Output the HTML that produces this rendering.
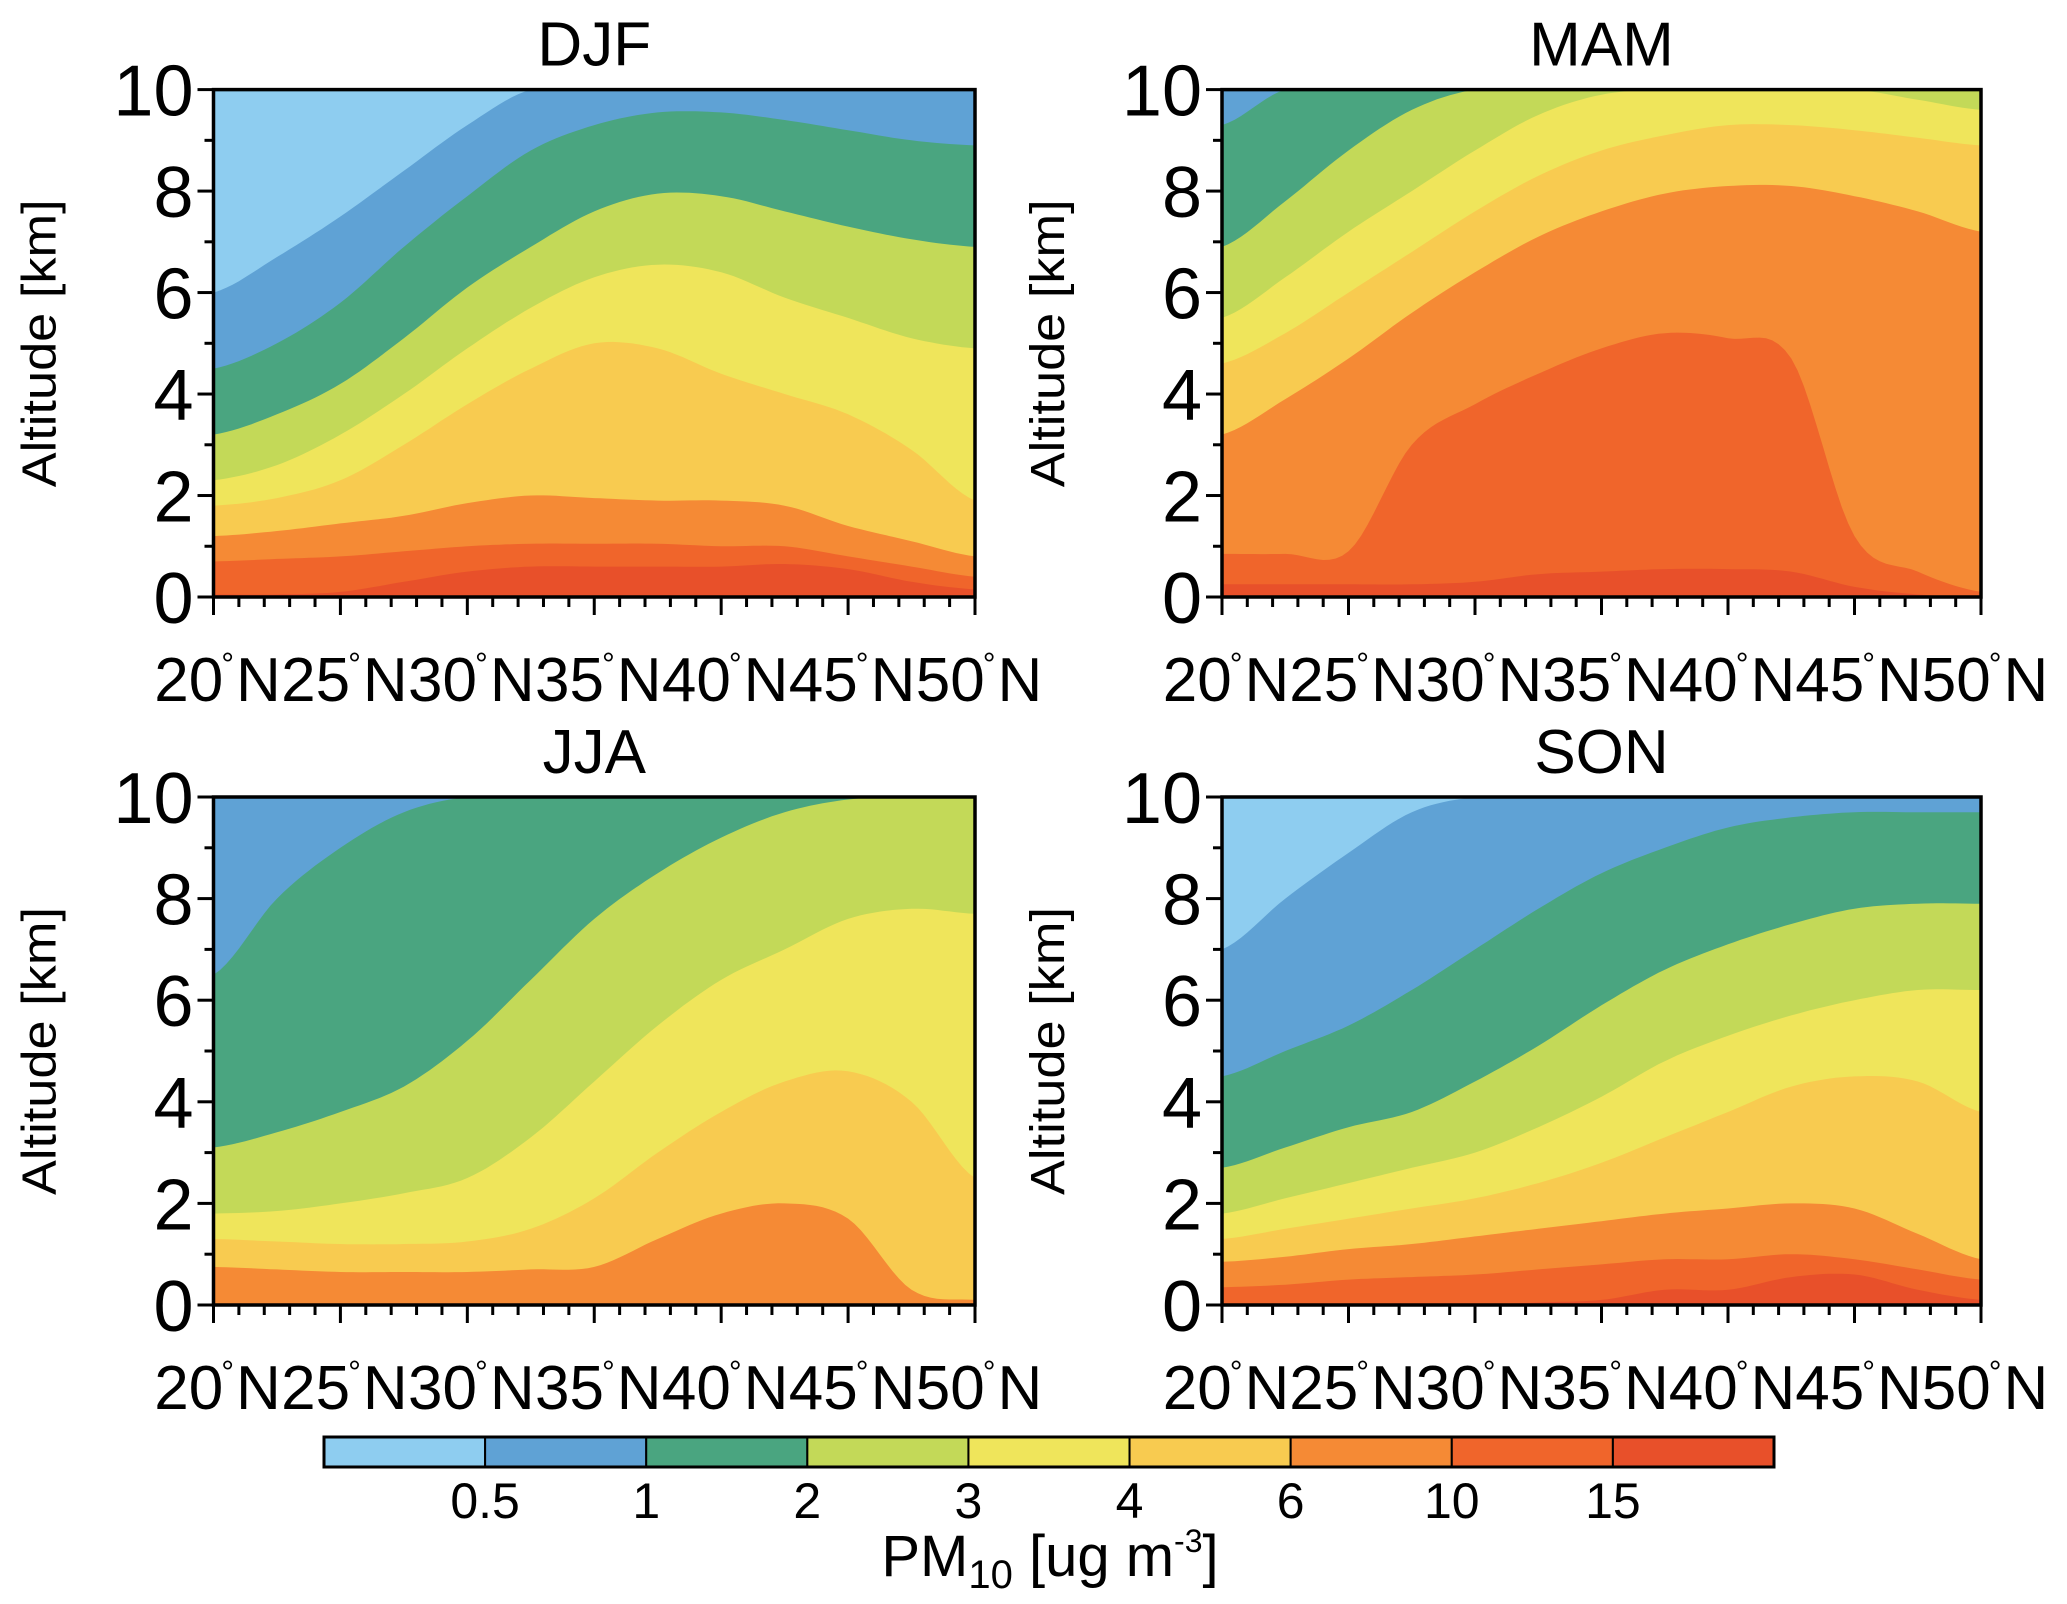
<!DOCTYPE html>
<html><head><meta charset="utf-8"><style>
html,body{margin:0;padding:0;background:#fff}
svg{display:block}
text{font-family:"Liberation Sans",Arial,sans-serif;fill:#000}
</style></head><body>
<svg id="fig" width="2067" height="1604" viewBox="0 0 2067 1604" xmlns="http://www.w3.org/2000/svg"></svg>
<script>
const levels = ["0.5","1","2","3","4","6","10","15"];
const colors = ["#8ecdf0","#5fa2d5","#4aa580","#c3d958","#efe55b","#f8cb50","#f58a35","#f0652b","#e8502a"];
const lats = [20,22.5,25,27.5,30,32.5,35,37.5,40,42.5,45,47.5,50];
const xTickLabels = ["20","25","30","35","40","45","50"];
const yTickLabels = [0,2,4,6,8,10];
const seasons = ["DJF","MAM","JJA","SON"];
// lower boundary altitude (km) of each colour band, index = colour index
const djf = [
 [6.0,6.7,7.5,8.4,9.3,10,10,10,10,10,10,10,10],
 [4.5,5.0,5.8,6.9,7.9,8.8,9.3,9.55,9.55,9.4,9.2,9.0,8.9],
 [3.2,3.6,4.2,5.1,6.1,6.9,7.6,7.95,7.9,7.6,7.3,7.05,6.9],
 [2.3,2.6,3.2,4.0,4.9,5.7,6.3,6.55,6.4,5.9,5.5,5.1,4.9],
 [1.8,1.95,2.3,3.0,3.8,4.5,5.0,4.9,4.4,4.0,3.6,2.9,1.9],
 [1.2,1.3,1.45,1.6,1.85,2.0,1.95,1.9,1.9,1.8,1.4,1.1,0.8],
 [0.7,0.75,0.8,0.9,1.0,1.05,1.05,1.05,1.0,1.0,0.8,0.6,0.4],
 [0.05,0.05,0.1,0.3,0.5,0.6,0.6,0.6,0.6,0.65,0.55,0.3,0.15]
];
const mam = [
 [10,10,10,10,10,10,10,10,10,10,10,10,10],
 [9.3,10,10,10,10,10,10,10,10,10,10,10,10],
 [6.9,7.8,8.8,9.6,10,10,10,10,10,10,10,10,10],
 [5.5,6.3,7.2,8.0,8.8,9.5,9.9,10,10,10,10,9.8,9.6],
 [4.6,5.2,6.0,6.8,7.6,8.3,8.8,9.1,9.3,9.3,9.2,9.05,8.9],
 [3.2,3.9,4.7,5.6,6.4,7.1,7.6,7.95,8.1,8.1,7.9,7.6,7.2],
 [0.85,0.85,0.9,3.0,3.8,4.4,4.9,5.2,5.1,4.7,1.2,0.5,0.1],
 [0.25,0.25,0.25,0.25,0.3,0.45,0.5,0.55,0.55,0.5,0.2,0.05,0]
];
const jja = [
 [10,10,10,10,10,10,10,10,10,10,10,10,10],
 [6.5,8.0,9.0,9.7,10,10,10,10,10,10,10,10,10],
 [3.1,3.4,3.8,4.3,5.2,6.4,7.6,8.5,9.2,9.7,9.95,10,10],
 [1.8,1.85,2.0,2.2,2.5,3.3,4.4,5.5,6.4,7.0,7.6,7.8,7.7],
 [1.3,1.25,1.2,1.2,1.25,1.5,2.1,3.0,3.8,4.4,4.6,4.0,2.5],
 [0.75,0.7,0.65,0.65,0.65,0.7,0.75,1.3,1.8,2.0,1.7,0.3,0.1],
 [0,0,0,0,0,0,0,0,0,0,0,0,0],
 [0,0,0,0,0,0,0,0,0,0,0,0,0]
];
const son = [
 [7.0,8.0,8.9,9.7,10,10,10,10,10,10,10,10,10],
 [4.5,5.0,5.5,6.2,7.0,7.8,8.5,9.0,9.4,9.6,9.7,9.7,9.7],
 [2.7,3.1,3.5,3.8,4.4,5.1,5.9,6.6,7.1,7.5,7.8,7.9,7.9],
 [1.8,2.1,2.4,2.7,3.0,3.5,4.1,4.8,5.3,5.7,6.0,6.2,6.2],
 [1.3,1.5,1.7,1.9,2.1,2.4,2.8,3.3,3.8,4.3,4.5,4.4,3.8],
 [0.85,0.95,1.1,1.2,1.35,1.5,1.65,1.8,1.9,2.0,1.9,1.4,0.9],
 [0.35,0.4,0.5,0.55,0.6,0.7,0.8,0.9,0.9,1.0,0.9,0.7,0.5],
 [0,0,0,0,0,0.05,0.1,0.3,0.3,0.55,0.6,0.3,0.1]
];
const fields = [djf,mam,jja,son];

const NS="http://www.w3.org/2000/svg";
const svg=document.getElementById('fig');
function mk(tag,attrs,parent){const e=document.createElementNS(NS,tag);for(const k in attrs)e.setAttribute(k,attrs[k]);(parent||svg).appendChild(e);return e;}
const panels=[{x0:213.5,x1:975,y0:89.6,y1:597},{x0:1222,x1:1981,y0:89.6,y1:597},{x0:213.5,x1:975,y0:797,y1:1305},{x0:1222,x1:1981,y0:797,y1:1305}];

function interp(arr,lat){
  const t=(lat-20)/2.5;let i=Math.floor(t);if(i>=arr.length-1)i=arr.length-2;if(i<0)i=0;
  const f=t-i;const p0=arr[Math.max(i-1,0)],p1=arr[i],p2=arr[i+1],p3=arr[Math.min(i+2,arr.length-1)];
  const v=0.5*((2*p1)+(-p0+p2)*f+(2*p0-5*p1+4*p2-p3)*f*f+(-p0+3*p1-3*p2+p3)*f*f*f);
  return Math.max(0,Math.min(10,v));
}

panels.forEach((P,pi)=>{
  const g=mk('g',{});
  
  
  const xS=lat=>P.x0+(lat-20)/30*(P.x1-P.x0);
  const yS=z=>P.y1-z/10*(P.y1-P.y0);
  const bg=mk('rect',{x:P.x0,y:P.y0,width:P.x1-P.x0,height:P.y1-P.y0,fill:colors[8]},g);
  
  
  const F=fields[pi];
  for(let k=7;k>=0;k--){
    let d='M'+xS(20)+','+yS(10);
    for(let lat=20;lat<=50.001;lat+=0.25){d+=' L'+xS(lat).toFixed(1)+','+yS(interp(F[k],lat)).toFixed(1);}
    d+=' L'+xS(50)+','+yS(10)+' Z';
    const p=mk('path',{d:d,fill:colors[k]},g);
    
    
  }
  mk('rect',{x:P.x0,y:P.y0,width:P.x1-P.x0,height:P.y1-P.y0,fill:'none',stroke:'#000','stroke-width':3.5},g);
  for(let z=0;z<=10;z++){
    const major=z%2===0;
    mk('line',{x1:P.x0-(major?16:9),x2:P.x0,y1:yS(z),y2:yS(z),stroke:'#000','stroke-width':3},g);
  }
  yTickLabels.forEach(v=>{
    const t=mk('text',{x:P.x0-20,y:yS(v)+26,'font-size':72,'text-anchor':'end'},g);
    t.textContent=String(v);
    
    
  });
  for(let lat=20;lat<=50;lat++){
    const major=lat%5===0;
    mk('line',{x1:xS(lat),x2:xS(lat),y1:P.y1,y2:P.y1+(major?18:10),stroke:'#000','stroke-width':3},g);
  }
  xTickLabels.forEach(v=>{
    const t=mk('text',{x:xS(+v)+4,y:P.y1+104,'font-size':62,'text-anchor':'middle'},g);
    
    
    const a=mk('tspan',{},t);a.textContent=v;
    const b=mk('tspan',{'font-size':32,dy:-26,dx:-2},t);b.textContent='°';
    const c=mk('tspan',{dy:26,dx:2},t);c.textContent='N';
  });
  const yl=mk('text',{x:0,y:0,'font-size':48,'text-anchor':'middle',transform:'translate('+(P.x0-158)+','+((P.y0+P.y1)/2)+') rotate(-90)',textLength:288,lengthAdjust:'spacingAndGlyphs'},g);
  yl.textContent='Altitude [km]';
  
  
  const tt=mk('text',{x:(P.x0+P.x1)/2,y:P.y0-24,'font-size':62,'text-anchor':'middle'},g);
  tt.textContent=seasons[pi];
  
  
});

const cb=mk('g',{});


const cbx0=324,cbx1=1774,cby0=1437,cby1=1467,bw=(cbx1-cbx0)/colors.length;
colors.forEach((c,i)=>{
  const r=mk('rect',{x:cbx0+i*bw,y:cby0,width:bw,height:cby1-cby0,fill:c,stroke:'#000','stroke-width':2},cb);
  
  
});
mk('rect',{x:cbx0,y:cby0,width:cbx1-cbx0,height:cby1-cby0,fill:'none',stroke:'#000','stroke-width':3},cb);
levels.forEach((l,i)=>{
  const t=mk('text',{x:cbx0+(i+1)*bw,y:1518,'font-size':50,'text-anchor':'middle'},cb);
  t.textContent=l;
  
  
});
const ct=mk('text',{x:1050,y:1576,'font-size':58,'text-anchor':'middle'},cb);


const s1=mk('tspan',{},ct);s1.textContent='PM';
const s2=mk('tspan',{'font-size':40,dy:12},ct);s2.textContent='10';
const s3=mk('tspan',{dy:-12},ct);s3.textContent='  [ug m';
const s4=mk('tspan',{'font-size':32,dy:-24},ct);s4.textContent='-3';
const s5=mk('tspan',{dy:24},ct);s5.textContent=']';
</script>
</body></html>
